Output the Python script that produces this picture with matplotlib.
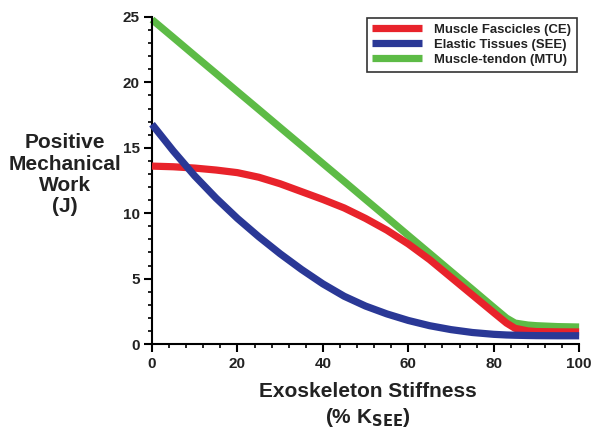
import matplotlib
matplotlib.use("Agg")
import matplotlib.pyplot as plt
from matplotlib.ticker import MultipleLocator

plt.rcParams["font.family"] = ["Liberation Sans", "DejaVu Sans"]
plt.rcParams["font.weight"] = "bold"

# values
stiffness = [0, 5, 10, 15, 20, 25, 30, 35, 40, 45, 50, 55, 60, 65, 70, 75, 80, 83, 85, 88, 90, 95, 100]
fascicles = [13.6, 13.55, 13.45, 13.3, 13.1, 12.75, 12.25, 11.65, 11.05, 10.4, 9.6, 8.7, 7.65,
             6.45, 5.1, 3.75, 2.4, 1.6, 1.2, 1.0, 0.95, 0.93, 0.92]
elastic = [16.8, 14.75, 12.85, 11.15, 9.6, 8.2, 6.9, 5.7, 4.6, 3.65, 2.9, 2.3, 1.8,
           1.4, 1.1, 0.88, 0.74, 0.69, 0.67, 0.65, 0.64, 0.63, 0.63]
mtu = [24.8, 23.43, 22.05, 20.68, 19.3, 17.93, 16.55, 15.18, 13.8, 12.43, 11.05, 9.68, 8.3,
       6.93, 5.55, 4.18, 2.8, 1.98, 1.6, 1.45, 1.4, 1.33, 1.3]

series = [
    ("Muscle Fascicles (CE)", fascicles, "#e8232b", 3),
    ("Elastic Tissues (SEE)", elastic, "#2a3896", 4),
    ("Muscle-tendon (MTU)", mtu, "#5dbb46", 2),
]

fig = plt.figure(figsize=(6.02, 4.38), dpi=100)
ax = fig.add_axes([0.2525, 0.2146, 0.7095, 0.7466])

for label, values, color, z in series:
    ax.plot(stiffness, values, color=color, lw=5.2, label=label, zorder=z,
            solid_capstyle="butt", solid_joinstyle="round", clip_on=False)

ax.set_xlim(0, 100)
ax.set_ylim(0, 25)
ax.xaxis.set_major_locator(MultipleLocator(20))
ax.xaxis.set_minor_locator(MultipleLocator(4))
ax.yaxis.set_major_locator(MultipleLocator(5))
ax.yaxis.set_minor_locator(MultipleLocator(1))
ax.tick_params(which="major", length=6, width=1.5, labelsize=11, pad=3)
ax.tick_params(which="minor", length=3, width=1.2)
for lab in ax.get_xticklabels() + ax.get_yticklabels():
    lab.set_fontweight("bold")
    lab.set_color("#222222")

for side in ("top", "right"):
    ax.spines[side].set_visible(False)
for side in ("left", "bottom"):
    ax.spines[side].set_linewidth(1.5)

fig.text(0.108, 0.601, "Positive\nMechanical\nWork\n(J)", ha="center", va="center",
         fontsize=15, fontweight="bold", linespacing=1.15, color="#222222")
fig.text(0.611, 0.075, "Exoskeleton Stiffness\n(% K$_{\\mathbf{SEE}}$)", ha="center", va="center",
         fontsize=15, fontweight="bold", linespacing=1.3, color="#222222")

leg = ax.legend(loc="upper right", bbox_to_anchor=(0.9585, 0.959), bbox_transform=fig.transFigure,
                borderaxespad=0, fontsize=9.45, handlelength=3.75, frameon=True, fancybox=False,
                borderpad=0.45, labelspacing=0.2, handletextpad=0.95)
leg.get_frame().set_edgecolor("black")
leg.get_frame().set_linewidth(1.2)
for t in leg.get_texts():
    t.set_fontweight("bold")
    t.set_color("#222222")

fig.savefig("out.png", dpi=100)
